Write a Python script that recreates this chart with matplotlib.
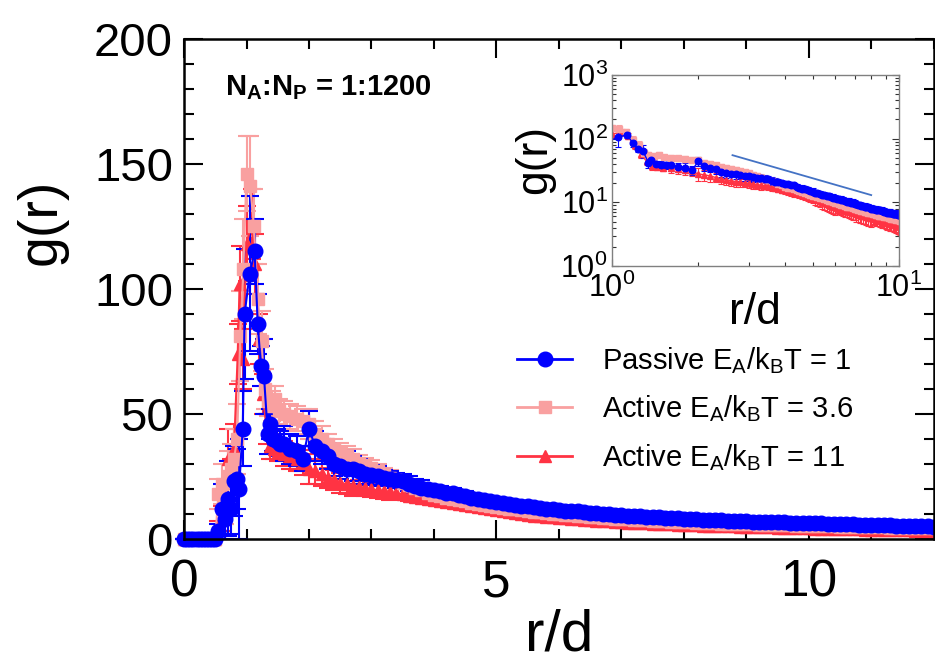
import numpy as np
import matplotlib
matplotlib.use("Agg")
import matplotlib.pyplot as plt
from matplotlib.lines import Line2D
from matplotlib.ticker import MultipleLocator, FixedLocator, LogLocator, NullFormatter, FuncFormatter

plt.rcParams.update({"font.family": "sans-serif",
                     "font.sans-serif": ["Liberation Sans", "DejaVu Sans"],
                     "mathtext.fontset": "custom", "mathtext.rm": "Liberation Sans",
                     "mathtext.bf": "Liberation Sans:bold", "mathtext.it": "Liberation Sans:italic",
                     "mathtext.default": "regular"})

# ---------- data ----------
r_zero = [0.0, 0.05, 0.1, 0.15, 0.2, 0.25, 0.3, 0.35, 0.4, 0.45, 0.5]
g_zero = [0] * 11
e_zero = [0] * 11

r_tail = [1.6, 1.7, 1.8, 1.9, 2.0, 2.1, 2.2, 2.3, 2.4, 2.5, 2.6, 2.7, 2.8, 2.9, 3.0, 3.1, 3.2, 3.3, 3.4, 3.5,
          3.6, 3.7, 3.8, 3.9, 4.0,
          4.1, 4.2, 4.3, 4.4, 4.5, 4.6, 4.7, 4.8, 4.9, 5.0, 5.1, 5.2, 5.3, 5.4, 5.5, 5.6, 5.7, 5.8, 5.9, 6.0,
          6.1, 6.2, 6.3, 6.4, 6.5, 6.6, 6.7, 6.8, 6.9, 7.0, 7.1, 7.2, 7.3, 7.4, 7.5, 7.6, 7.7, 7.8, 7.9, 8.0,
          8.1, 8.2, 8.3, 8.4, 8.5, 8.6, 8.7, 8.8, 8.9, 9.0, 9.1, 9.2, 9.3, 9.4, 9.5, 9.6, 9.7, 9.8, 9.9, 10.0,
          10.1, 10.2, 10.3, 10.4, 10.5, 10.6, 10.7, 10.8, 10.9, 11.0, 11.1, 11.2, 11.3, 11.4, 11.5, 11.6,
          11.7, 11.8, 11.9, 12.0]

# passive E_A/kBT = 1 (blue)
r_blue_pk = [0.55, 0.6, 0.65, 0.7, 0.75, 0.8, 0.84, 0.88, 0.94, 0.97, 1.05, 1.13, 1.18, 1.23, 1.28, 1.34,
             1.37, 1.42, 1.48, 1.54]
g_blue_pk = [3, 12, 8, 16, 12, 23, 24, 20, 44, 90, 106, 115, 86, 69, 65, 42, 46, 40, 39, 38]
e_blue_pk = [3, 10, 8, 15, 10, 14, 12, 20, 15, 26, 31, 13, 12, 8, 15, 8, 6, 5, 5, 5]
g_blue_tail = [38, 36, 35, 32, 44, 37, 35, 33, 30, 29, 28, 28, 27, 26, 25.5, 25, 24.5, 24, 23.5, 23,
               22, 21, 20.5, 20, 19.5,
               19.2, 18.5, 18.4, 17.4, 17.0, 16.4, 16.0, 15.4, 15.0, 14.6,
               14.2, 13.9, 13.6, 13.2, 13.2, 12.7, 12.4, 12.1, 11.9, 11.6,
               11.3, 11.1, 11.0, 10.7, 10.4, 10.2, 10.0, 9.8, 9.7, 9.5,
               9.3, 9.2, 9.2, 8.9, 8.7, 8.6, 8.4, 8.3, 8.2, 8.0,
               7.9, 7.8, 7.7, 7.6, 7.5, 7.5, 7.3, 7.2, 7.1, 7.0,
               6.9, 6.8, 6.8, 6.7, 6.6, 6.6, 6.5, 6.5, 6.4, 6.4,
               6.3, 6.2, 6.1, 6.0, 6.0, 5.9, 5.8, 5.7, 5.7, 5.6,
               5.5, 5.4, 5.4, 5.3, 5.2, 5.1, 5.1, 5.0, 5.0, 4.9]
e_blue_tail = ([7, 6, 6, 5, 7, 6, 5, 5, 5, 5, 7, 5, 5, 4, 4, 4, 3, 3, 3, 3, 3, 3, 3, 2, 2]
               + [2] * 10 + [1.5] * 20 + [1] * 50)

# active E_A/kBT = 3.6 (pink)
r_pink_pk = [0.55, 0.6, 0.65, 0.7, 0.75, 0.8, 0.85, 0.9, 0.95, 1.0, 1.06, 1.12, 1.18, 1.24, 1.29, 1.34,
             1.4, 1.46, 1.52]
g_pink_pk = [18, 22, 12, 25, 28, 32, 40, 81, 108, 146, 141, 125, 96, 79, 60, 55, 53, 56, 51]
e_pink_pk = [6, 8, 6, 10, 10, 12, 14, 18, 20, 15, 20, 15, 14, 12, 8, 6, 6, 5, 5]
g_pink_tail = [50, 49, 48, 47, 46, 42, 40, 38, 36, 34.5, 33, 32, 30.5, 29.5, 28.5, 27, 25.5, 24.5, 23.5,
               22.5, 21.5, 20.5, 19.5, 18.5, 17.5,
               17.0, 16.5, 16.0, 15.5, 15.0, 14.5, 14.0, 13.5, 13.1, 12.7,
               12.4, 12.1, 11.8, 11.5, 11.2, 10.9, 10.6, 10.4, 10.1, 9.9,
               9.7, 9.4, 9.2, 9.0, 8.8, 8.6, 8.5, 8.3, 8.1, 8.0,
               7.8, 7.7, 7.5, 7.4, 7.3, 7.1, 7.0, 6.9, 6.8, 6.7,
               6.6, 6.5, 6.4, 6.3, 6.2, 6.1, 6.1, 6.0, 5.9, 5.8,
               5.8, 5.7, 5.6, 5.5, 5.5, 5.4, 5.4, 5.3, 5.2, 5.2,
               5.1, 5.1, 5.0, 5.0, 4.9, 4.9, 4.8, 4.8, 4.7, 4.7,
               4.6, 4.6, 4.5, 4.5, 4.4, 4.4, 4.3, 4.3, 4.2, 4.2]
e_pink_tail = ([5, 5, 5, 5, 6, 5, 5, 4, 4, 4, 4, 4, 3, 3, 3, 3, 3, 3, 2, 2, 2, 2, 2, 2, 2]
               + [2] * 20 + [1.5] * 20 + [1] * 40)

# active E_A/kBT = 11 (red)
r_red_pk = [0.55, 0.6, 0.65, 0.7, 0.75, 0.8, 0.86, 0.89, 0.94, 1.0, 1.08, 1.14, 1.2, 1.26, 1.32, 1.38,
            1.44, 1.5]
g_red_pk = [4, 8, 14, 32, 24, 36, 74, 102, 72, 118, 126, 110, 80, 58, 44, 37, 36, 35]
e_red_pk = [3, 5, 8, 12, 8, 10, 12, 15, 12, 15, 14, 12, 10, 8, 6, 5, 4, 4]
g_red_tail = [34, 33, 32, 30.5, 28, 27, 26, 24.5, 23.5, 22.5, 21.8, 21.2, 20.6, 20.2, 19.8, 19.4, 19,
              18.6, 18.2, 17.8, 17.3, 16.8, 16.3, 15.9, 15.5,
              15.1, 14.7, 14.3, 14.0, 13.6, 13.3, 12.9, 12.5, 12.0, 11.6,
              11.2, 10.8, 10.4, 10.0, 9.6, 9.3, 9.0, 8.8, 8.6, 8.4,
              8.2, 8.0, 7.8, 7.6, 7.4, 7.3, 7.1, 7.0, 6.8, 6.7,
              6.5, 6.4, 6.3, 6.2, 6.1, 6.0, 5.9, 5.8, 5.7, 5.6,
              5.5, 5.4, 5.3, 5.3, 5.2, 5.1, 5.0, 5.0, 4.9, 4.8,
              4.7, 4.7, 4.6, 4.6, 4.5, 4.4, 4.4, 4.3, 4.2, 4.2,
              4.1, 4.1, 4.0, 4.0, 3.9, 3.9, 3.8, 3.8, 3.7, 3.7,
              3.6, 3.6, 3.5, 3.5, 3.4, 3.4, 3.3, 3.3, 3.2, 3.2]
e_red_tail = e_pink_tail

# guide line in the inset
r_guide = [2.63, 8.0]
g_guide = [55, 13]

labels = [r"Passive E$_A$/k$_B$T = 1", r"Active E$_A$/k$_B$T = 3.6", r"Active E$_A$/k$_B$T = 11"]
C_BLUE, C_PINK, C_RED = "#0000FF", "#F9A0A0", "#FF3343"

series = [  # drawn bottom -> top
    (r_zero + r_red_pk + r_tail, g_zero + g_red_pk + g_red_tail, e_zero + e_red_pk + e_red_tail, C_RED, "^", 9),
    (r_zero + r_pink_pk + r_tail, g_zero + g_pink_pk + g_pink_tail, e_zero + e_pink_pk + e_pink_tail, C_PINK, "s", 9),
    (r_zero + r_blue_pk + r_tail, g_zero + g_blue_pk + g_blue_tail, e_zero + e_blue_pk + e_blue_tail, C_BLUE, "o", 10.5),
]

fig = plt.figure(figsize=(9.35, 6.56), dpi=100)
ax = fig.add_axes([0.1968, 0.1784, 0.8021, 0.7622])
for r, g, e, c, m, ms in series:
    ax.errorbar(r, g, yerr=e, fmt=m + "-", color=c, ms=ms, lw=1.5, elinewidth=1.5,
                capsize=6.5, capthick=1.5, clip_on=False)
ax.set_xlim(0, 12); ax.set_ylim(0, 200)
ax.xaxis.set_major_locator(FixedLocator([0, 5, 10])); ax.xaxis.set_minor_locator(MultipleLocator(1))
ax.yaxis.set_major_locator(FixedLocator([0, 50, 100, 150, 200])); ax.yaxis.set_minor_locator(MultipleLocator(10))
ax.tick_params(which="both", direction="in", top=True, right=True, width=1.5)
ax.tick_params(which="major", length=14); ax.tick_params(which="minor", length=7.5)
ax.tick_params(axis="y", labelsize=34, pad=8)
ax.tick_params(axis="x", labelsize=37, pad=14)
for s in ax.spines.values():
    s.set_linewidth(1.8)

fig.text(0.045, 1 - 222 / 656, "g(r)", rotation=90, fontsize=40, ha="center", va="center")
fig.text(559 / 935, 0.008, "r/d", fontsize=42, ha="center", va="baseline")
fig.text(225 / 935, 1 - 88 / 656, r"N$_{\mathbf{A}}$:N$_{\mathbf{P}}$ = 1:1200", fontsize=21,
         fontweight="bold", ha="left", va="center")

handles = [Line2D([], [], color=C_BLUE, marker="o", ms=10.5, lw=2),
           Line2D([], [], color=C_PINK, marker="s", ms=9, lw=2),
           Line2D([], [], color=C_RED, marker="^", ms=9, lw=2)]
fig.legend(handles, labels, loc="center left", bbox_to_anchor=(517 / 935, 1 - 409 / 656), frameon=False,
           fontsize=21, handlelength=1.9, handletextpad=1.0, labelspacing=0.6, borderpad=0, borderaxespad=0)

# ---------- inset: log-log ----------
axin = fig.add_axes([0.6545, 0.5945, 0.307, 0.2912])
for r, g, e, c, m, ms in series:
    axin.errorbar(r, g, yerr=e, fmt=m + "-", color=c, ms=ms * 0.45, lw=1, elinewidth=0.8,
                  capsize=2, capthick=0.8)
axin.plot(r_guide, g_guide, color="#4472C4", lw=1.3)
axin.set_xscale("log"); axin.set_yscale("log")
axin.set_xlim(1, 10); axin.set_ylim(1, 1000)
axin.xaxis.set_major_locator(FixedLocator([1, 10]))
axin.yaxis.set_major_locator(FixedLocator([1, 10, 100, 1000]))
axin.xaxis.set_minor_locator(LogLocator(subs=np.arange(2, 10)))
axin.yaxis.set_minor_locator(LogLocator(subs=np.arange(2, 10)))
fmt = FuncFormatter(lambda v, p: r"$10^{%d}$" % round(np.log10(v)))
axin.xaxis.set_major_formatter(fmt); axin.yaxis.set_major_formatter(fmt)
axin.xaxis.set_minor_formatter(NullFormatter()); axin.yaxis.set_minor_formatter(NullFormatter())
axin.tick_params(which="both", direction="in", top=True, right=True, width=0.8, color="#333333")
axin.tick_params(which="major", length=5); axin.tick_params(which="minor", length=3)
axin.tick_params(axis="both", labelsize=22)
axin.tick_params(axis="y", pad=3); axin.tick_params(axis="x", pad=5)
for s in axin.spines.values():
    s.set_linewidth(1); s.set_color("#808080")
fig.text(535 / 935, 1 - 160 / 656, "g(r)", rotation=90, fontsize=32, ha="center", va="center")
fig.text(755 / 935, 1 - 313 / 656, "r/d", fontsize=32, ha="center", va="center")

fig.savefig("out.png", dpi=100)
